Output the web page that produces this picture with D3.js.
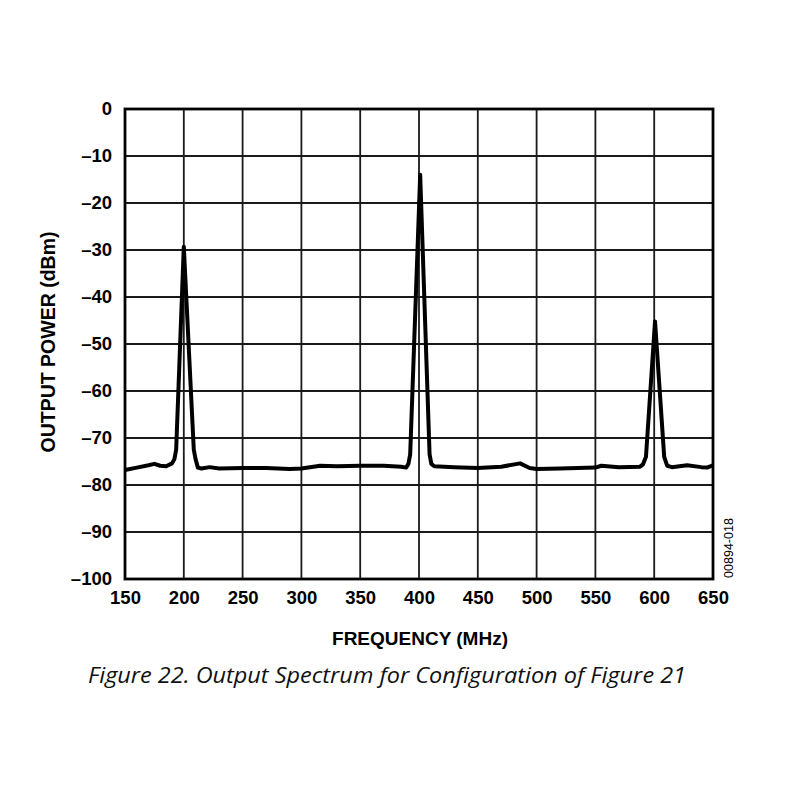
<!DOCTYPE html>
<html>
<head>
<meta charset="utf-8">
<script src="https://cdn.jsdelivr.net/npm/d3@7"></script>
<style>
  body { margin: 0; background: #fff; }
  svg { display: block; }
</style>
</head>
<body>
<svg id="chart" width="800" height="800"></svg>
<script>
// spectrum trace
const freqMHz = [150, 160, 170, 175, 180, 185, 190, 192, 193.5, 200, 208.5, 210, 212, 215, 222, 230, 250, 270, 290, 300,
  316, 330, 350, 370, 385, 389, 391, 392.5, 401, 409, 410.5, 413, 430, 450, 470, 486, 494, 500, 520, 550,
  555, 570, 588, 590.5, 593, 600.7, 608.5, 611, 615, 628, 640, 645, 650];
const powerDbm = [-76.8, -76.3, -75.8, -75.5, -75.9, -76.0, -75.4, -74.5, -72.5, -29.3, -72.5, -74.5, -76.3, -76.5, -76.2, -76.5, -76.4, -76.4, -76.6, -76.5,
  -75.9, -76.0, -75.9, -75.9, -76.1, -76.3, -75.5, -73.5, -14.0, -73.5, -75.5, -76.0, -76.2, -76.4, -76.1, -75.4, -76.4, -76.6, -76.5, -76.3,
  -75.9, -76.2, -76.1, -75.6, -74.0, -45.2, -74.0, -75.9, -76.2, -75.8, -76.2, -76.3, -75.8];

const xTicks = [150, 200, 250, 300, 350, 400, 450, 500, 550, 600, 650];
const yTicks = [0, -10, -20, -30, -40, -50, -60, -70, -80, -90, -100];

const svg = d3.select("#chart");
const mLeft = 125, mTop = 109, w = 588, h = 470;
const font = "'Liberation Sans', Arial, sans-serif";

const x = d3.scaleLinear().domain([150, 650]).range([mLeft, mLeft + w]);
const y = d3.scaleLinear().domain([-100, 0]).range([mTop + h, mTop]);

// grid
svg.append("g").selectAll("line").data(xTicks).join("line")
  .attr("x1", d => x(d)).attr("x2", d => x(d))
  .attr("y1", mTop).attr("y2", mTop + h)
  .attr("stroke", "#1a1a1a").attr("stroke-width", 1.8);
svg.append("g").selectAll("line").data(yTicks).join("line")
  .attr("x1", mLeft).attr("x2", mLeft + w)
  .attr("y1", d => y(d)).attr("y2", d => y(d))
  .attr("stroke", "#1a1a1a").attr("stroke-width", 1.8);

// frame
svg.append("rect")
  .attr("x", mLeft).attr("y", mTop).attr("width", w).attr("height", h)
  .attr("fill", "none").attr("stroke", "#000").attr("stroke-width", 2.8);

// axes, labels only
const fmt = d => d < 0 ? "\u2013" + Math.abs(d) : String(d);
const xAxis = svg.append("g")
  .attr("transform", `translate(0,${mTop + h})`)
  .call(d3.axisBottom(x).tickValues(xTicks).tickSize(0).tickPadding(12).tickFormat(d => d));
const yAxis = svg.append("g")
  .attr("transform", `translate(${mLeft},0)`)
  .call(d3.axisLeft(y).tickValues(yTicks).tickSize(0).tickPadding(13).tickFormat(fmt));
[xAxis, yAxis].forEach(a => {
  a.select(".domain").remove();
  a.selectAll("text")
    .attr("font-family", font)
    .attr("font-weight", "bold").attr("font-size", 18.5).attr("fill", "#000");
});

// trace
const line = d3.line().x((d, i) => x(freqMHz[i])).y(d => y(d));
svg.append("path")
  .datum(powerDbm)
  .attr("d", line)
  .attr("fill", "none").attr("stroke", "#000")
  .attr("stroke-width", 4).attr("stroke-linejoin", "round");

// titles
svg.append("text")
  .attr("x", 420).attr("y", 645)
  .attr("text-anchor", "middle")
  .attr("font-family", font)
  .attr("font-weight", "bold").attr("font-size", 19)
  .text("FREQUENCY (MHz)");

svg.append("text")
  .attr("transform", `translate(55,342) rotate(-90)`)
  .attr("text-anchor", "middle")
  .attr("font-family", font)
  .attr("font-weight", "bold").attr("font-size", 19.5)
  .text("OUTPUT POWER (dBm)");

svg.append("text")
  .attr("transform", `translate(733,548) rotate(-90)`)
  .attr("text-anchor", "middle")
  .attr("font-family", font)
  .attr("font-size", 12.5)
  .text("00894-018");

svg.append("text")
  .attr("x", 387).attr("y", 683)
  .attr("text-anchor", "middle")
  .attr("font-family", "'Open Sans', 'Noto Sans', sans-serif")
  .attr("font-style", "italic").attr("font-size", 22)
  .attr("textLength", 598).attr("lengthAdjust", "spacingAndGlyphs")
  .attr("fill", "#111")
  .text("Figure 22. Output Spectrum for Configuration of Figure 21");
</script>
</body>
</html>
